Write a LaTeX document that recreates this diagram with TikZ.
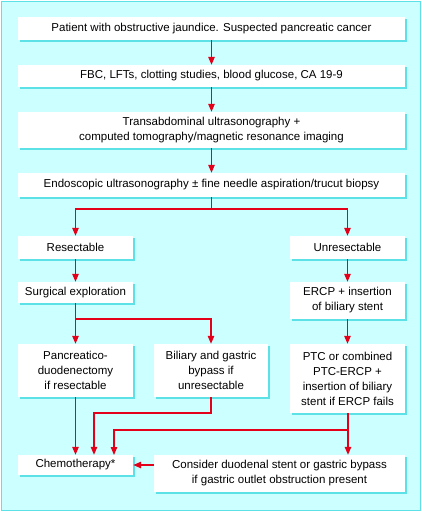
\documentclass[tikz,border=0pt]{standalone}
\usepackage{fontspec}
\setmainfont{Liberation Sans}
\usetikzlibrary{arrows.meta,shadows}

\definecolor{paleCyan}{HTML}{CCFFFF}
\definecolor{edgeCyan}{HTML}{5CE1E6}
\definecolor{flowRed}{HTML}{E5001A}

\tikzset{
  stepbox/.style={fill=white, inner sep=2pt, align=center,
    font=\fontsize{11.5}{15}\selectfont,
    general shadow={fill=edgeCyan, shadow xshift=2pt, shadow yshift=-2pt}},
  wide/.style={minimum width=387pt},
  narrow/.style={minimum width=115pt},
  link/.style={draw=flowRed, line width=1.3pt},
  flow/.style={link, -{Triangle[length=8pt,width=6.5pt]}},
}

\begin{document}
\begin{tikzpicture}[x=1pt,y=-1pt]

    % Frame and background
    \useasboundingbox (0,0) rectangle (422,512);
    \draw[edgeCyan, fill=paleCyan, line width=1pt] (1,1) rectangle (420,510);

    % Work-up down the middle
    \node[stepbox, wide, minimum height=23pt] (patient) at (211.5,28.5)
        {Patient with obstructive jaundice. Suspected pancreatic cancer};
    \node[stepbox, wide, minimum height=22pt] (bloods) at (211.5,76)
        {FBC, LFTs, clotting studies, blood glucose, CA 19-9};
    \node[stepbox, wide, minimum height=36pt] (imaging) at (211.5,130)
        {Transabdominal ultrasonography +\\computed tomography/magnetic resonance imaging};
    \node[stepbox, wide, minimum height=24pt] (eus) at (211.5,185)
        {Endoscopic ultrasonography ± fine needle aspiration/trucut biopsy};

    % Left branch
    \node[stepbox, narrow, minimum height=23pt] (resect) at (75.5,247.5) {Resectable};
    \node[stepbox, narrow, minimum height=21pt] (surgery) at (75.5,292.5) {Surgical exploration};
    \node[stepbox, narrow, minimum height=53pt] (whipple) at (75.5,370.5)
        {Pancreatico-\\duodenectomy\\if resectable};
    \node[stepbox, minimum width=114pt, minimum height=53pt] (bypass) at (211,370.5)
        {Biliary and gastric\\bypass if\\unresectable};

    % Right branch
    \node[stepbox, narrow, minimum height=23pt] (unresect) at (347.5,247.5) {Unresectable};
    \node[stepbox, narrow, minimum height=37pt] (ercp) at (347.5,300.5)
        {ERCP + insertion\\of biliary stent};
    \node[stepbox, narrow, minimum height=69pt] (ptc) at (347.5,378.5)
        {PTC or combined\\PTC-ERCP +\\insertion of biliary\\stent if ERCP fails};

    % Bottom row
    \node[stepbox, narrow, minimum height=20pt] (chemo) at (75.5,465) {Chemotherapy*};
    \node[stepbox, minimum width=251pt, minimum height=37pt] (duodenal) at (279.5,473.5)
        {Consider duodenal stent or gastric bypass\\if gastric outlet obstruction present};

    % Junction points
    \coordinate (fork1) at (211.5,209);
    \coordinate (fork2) at (75.5,319);
    \coordinate (elbow1) at (94,413);
    \coordinate (fork3) at (348,430);

    % Arrows down the middle
    \draw[flow] (patient) -- (bloods);
    \draw[flow] (bloods) -- (imaging);
    \draw[flow] (imaging) -- (eus);
    \draw[link] (eus) -- (fork1);
    \draw[flow] (fork1) -| (resect);
    \draw[flow] (fork1) -| (unresect);

    % Arrows on the left
    \draw[flow] (resect) -- (surgery);
    \draw[link] (surgery) -- (fork2);
    \draw[flow] (fork2) -- (whipple);
    \draw[flow] (fork2) -| (bypass);
    \draw[flow] (whipple) -- (chemo);
    \draw[flow] (bypass) |- (elbow1) -- (elbow1 |- chemo.north);

    % Arrows on the right
    \draw[flow] (unresect) -- (ercp);
    \draw[flow] (ercp) -- (ptc);
    \draw[link] (ptc.south -| fork3) -- (fork3);
    \draw[flow] (fork3) -- (fork3 |- duodenal.north);
    \draw[flow] (fork3) -| (114,455);
    \draw[flow] (duodenal.west |- chemo) -- (chemo);

\end{tikzpicture}
\end{document}
